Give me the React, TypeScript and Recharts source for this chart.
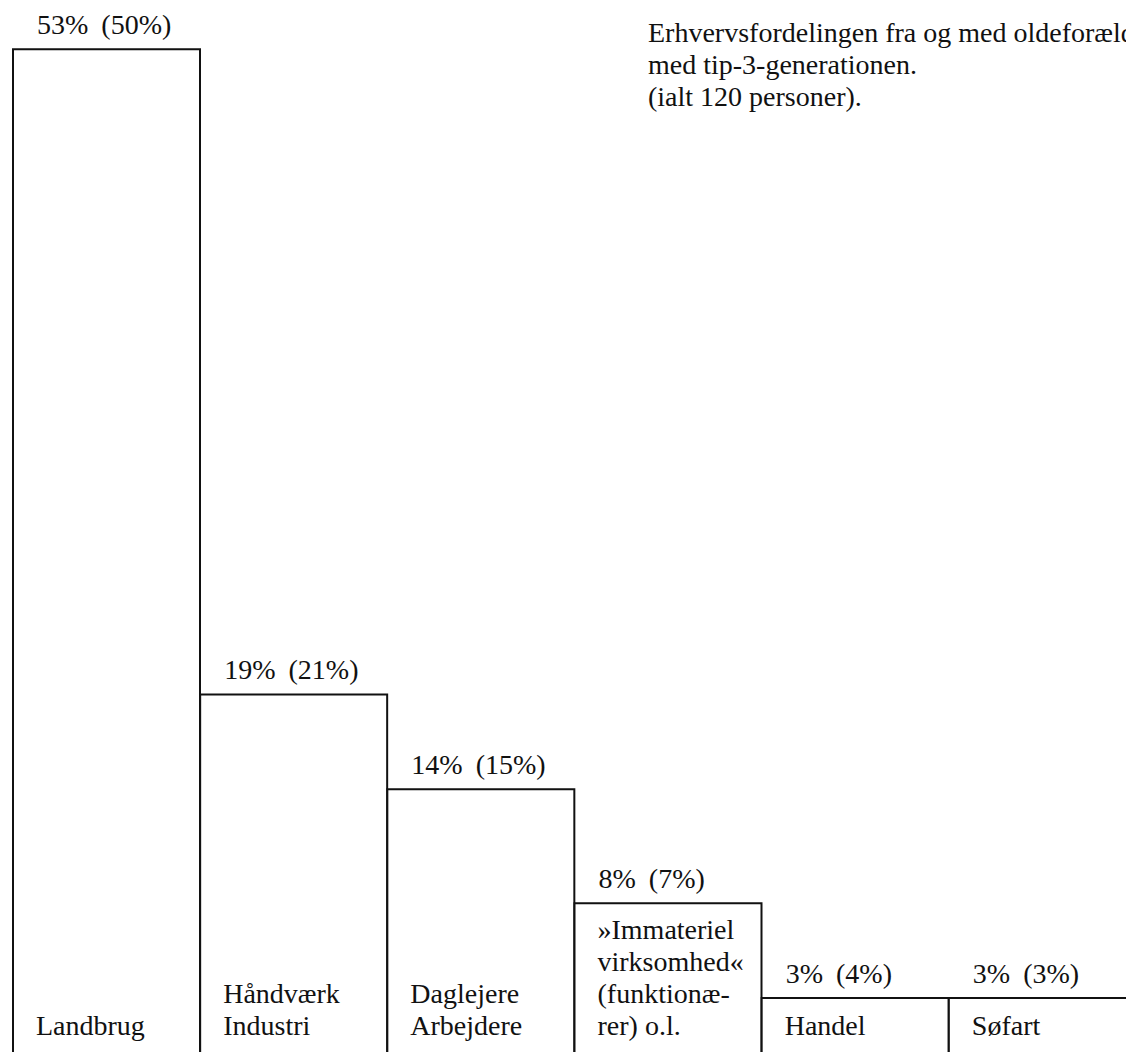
import React from 'react';
import { BarChart, Bar, XAxis, YAxis, LabelList } from 'recharts';

// occupation groups, text lines inside each bar (read top to bottom)
const categories = [
    'Landbrug',
    'Håndværk\nIndustri',
    'Daglejere\nArbejdere',
    '»Immateriel\nvirksomhed«\n(funktionæ-\nrer) o.l.',
    'Handel',
    'Søfart',
];
// share of the 120 persons, and the figure in brackets
const share = [53, 19, 14, 8, 3, 3];
const shareBracket = [50, 21, 15, 7, 4, 3];

const titleLines = [
    'Erhvervsfordelingen fra og med oldeforældre- til og',
    'med tip-3-generationen.',
    '(ialt 120 personer).',
];

const data = categories.map((c, i) => ({
    name: c,
    share: share[i],
    bracket: shareBracket[i],
}));

const FONT = 'Liberation Serif, DejaVu Serif, serif';
const FS = 28;

const TopLabel = (props: any) => {
    const { x, y, index } = props;
    const d = data[index];
    return (
        <text x={x + 24} y={y - 15} fontFamily={FONT} fontSize={FS} fill="#111">
            {`${d.share}%`}
            <tspan dx={13}>{`(${d.bracket}%)`}</tspan>
        </text>
    );
};

const CatLabel = (props: any) => {
    const { x, y, height, index } = props;
    const lines = data[index].name.split('\n');
    const base = y + height - 20;
    return (
        <text fontFamily={FONT} fontSize={FS} fill="#111">
            {lines.map((l: string, i: number) => (
                <tspan key={i} x={x + 23} y={base - (lines.length - 1 - i) * 32}>{l}</tspan>
            ))}
        </text>
    );
};

const App: React.FC = () => {
    return (
        <div style={{ position: 'absolute', left: 0, top: 0, width: 1126, height: 1052, overflow: 'hidden', background: '#fff' }}>
            <BarChart
                width={1140}
                height={1055}
                data={data}
                margin={{ top: 0, right: 4, left: 13, bottom: 0 }}
                barCategoryGap={0}
                barGap={0}
            >
                <XAxis dataKey="name" hide />
                <YAxis hide domain={[0, 55.6]} />
                <Bar dataKey="share" fill="#fff" stroke="#111" strokeWidth={2} isAnimationActive={false}>
                    <LabelList dataKey="share" content={<TopLabel />} />
                    <LabelList dataKey="name" content={<CatLabel />} />
                </Bar>
            </BarChart>
            <div style={{
                position: 'absolute', left: 648, top: 17, fontFamily: FONT, fontSize: FS,
                lineHeight: '32px', color: '#111', whiteSpace: 'nowrap',
            }}>
                {titleLines.map((t, i) => <div key={i}>{t}</div>)}
            </div>
        </div>
    );
};

export default App;
